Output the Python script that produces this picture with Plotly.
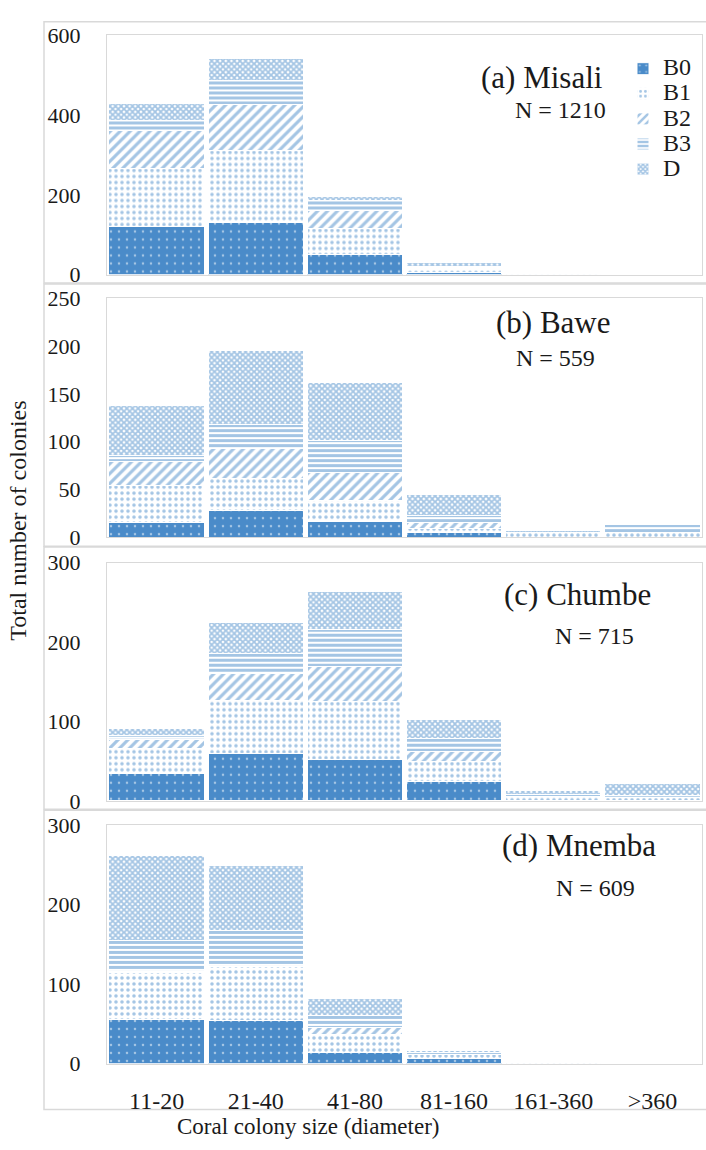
import plotly.graph_objects as go

categories = ["11-20", "21-40", "41-80", "81-160", "161-360", ">360"]
series_names = ["B0", "B1", "B2", "B3", "D"]

# (a) Misali
misali_B0 = [122, 132, 51, 6, 0, 0]
misali_B1 = [145, 180, 65, 10, 2, 0]
misali_B2 = [94, 116, 45, 3, 0, 0]
misali_B3 = [26, 58, 24, 2, 0, 0]
misali_D = [43, 56, 11, 9, 2, 0]

# (b) Bawe
bawe_B0 = [15, 28, 17, 5, 0, 0]
bawe_B1 = [39, 33, 21, 4, 5, 5]
bawe_B2 = [25, 32, 30, 7, 0, 0]
bawe_B3 = [7, 25, 33, 7, 0, 8]
bawe_D = [52, 77, 61, 22, 2, 0]

# (c) Chumbe
chumbe_B0 = [35, 60, 52, 25, 0, 0]
chumbe_B1 = [31, 67, 73, 25, 6, 5]
chumbe_B2 = [12, 33, 44, 12, 0, 0]
chumbe_B3 = [5, 26, 47, 17, 2, 2]
chumbe_D = [8, 39, 48, 24, 5, 15]

# (d) Mnemba
mnemba_B0 = [56, 54, 14, 6, 0, 0]
mnemba_B1 = [58, 68, 23, 5, 1, 0]
mnemba_B2 = [2, 0, 8, 1, 0, 0]
mnemba_B3 = [39, 45, 16, 2, 0, 0]
mnemba_D = [106, 82, 21, 2, 0, 0]

panel_titles = ["(a) Misali", "(b) Bawe", "(c) Chumbe", "(d) Mnemba"]
panel_n = ["N = 1210", "N = 559", "N = 715", "N = 609"]
y_max = [600, 250, 300, 300]
y_dtick = [200, 50, 100, 100]

panels = [
    [misali_B0, misali_B1, misali_B2, misali_B3, misali_D],
    [bawe_B0, bawe_B1, bawe_B2, bawe_B3, bawe_D],
    [chumbe_B0, chumbe_B1, chumbe_B2, chumbe_B3, chumbe_D],
    [mnemba_B0, mnemba_B1, mnemba_B2, mnemba_B3, mnemba_D],
]

W, H = 706, 1150
BLUE = "#4a8bc9"
FONT = "Liberation Serif, Times New Roman, serif"
TXT = "#1a1a1a"
BORDER = "#d9d9d9"

patterns = {
    "B0": dict(shape=".", bgcolor=BLUE, fgcolor="white", size=8, solidity=0.08),
    "B1": dict(shape=".", bgcolor="white", fgcolor=BLUE, size=6, solidity=0.28),
    "B2": dict(shape="/", bgcolor="white", fgcolor=BLUE, size=7, solidity=0.45),
    "B3": dict(shape="-", bgcolor="white", fgcolor=BLUE, size=5, solidity=0.6),
    "D": dict(shape="x", bgcolor="white", fgcolor=BLUE, size=4, solidity=0.7),
}


def px_y(p):
    return 1 - p / H


def px_x(p):
    return p / W


plot_px = [(24, 268.5), (292.5, 537), (563, 806.5), (831, 1075)]
outer_px = [(10, 277), (278, 546), (547, 815), (816, 1122)]
label_pos = [((542, 67), (560, 100)), ((553, 317), (555, 354)),
             ((577, 595), (594, 638)), ((579, 852), (595, 895))]

fig = go.Figure()
for i, data in enumerate(panels):
    ax = "" if i == 0 else str(i + 1)
    for name, vals in zip(series_names, data):
        fig.add_trace(go.Bar(
            x=categories, y=vals,
            name='<span style="font-size:24px">%s</span>' % name,
            xaxis="x" + ax, yaxis="y" + ax,
            marker=dict(color=BLUE if name == "B0" else "white",
                        pattern=patterns[name],
                        line=dict(color="white", width=1)),
            showlegend=(i == 0), legendgroup=name,
        ))

layout = dict(
    width=W, height=H, margin=dict(l=0, r=0, t=0, b=0),
    paper_bgcolor="white", plot_bgcolor="white",
    barmode="stack", bargap=0.04,
    font=dict(family=FONT, color=TXT, size=22),
    showlegend=True,
    legend=dict(x=px_x(623), y=px_y(40), xanchor="left", yanchor="top",
                font=dict(family=FONT, size=17, color=TXT),
                bgcolor="rgba(0,0,0,0)", tracegroupgap=0, itemwidth=30),
    shapes=[], annotations=[],
)

for i in range(4):
    ax = "" if i == 0 else str(i + 1)
    top, bot = plot_px[i]
    layout["xaxis" + ax] = dict(
        domain=[px_x(107), px_x(702)], anchor="y" + ax,
        range=[-0.5, 5.5], type="category",
        showticklabels=(i == 3), ticks="", showgrid=False,
        showline=True, mirror=True, linecolor=BORDER, linewidth=1,
        tickfont=dict(family=FONT, size=24, color=TXT),
        ticklabelstandoff=16, zeroline=False,
    )
    layout["yaxis" + ax] = dict(
        domain=[px_y(bot), px_y(top)], anchor="x" + ax,
        range=[0, y_max[i]], dtick=y_dtick[i], showgrid=False,
        showline=True, mirror=True, linecolor=BORDER, linewidth=1,
        tickfont=dict(family=FONT, size=22, color=TXT),
        ticks="", ticklabelstandoff=21, zeroline=False,
    )
    o_top, o_bot = outer_px[i]
    layout["shapes"].append(dict(
        type="rect", xref="paper", yref="paper",
        x0=px_x(44), x1=px_x(712), y0=px_y(o_bot), y1=px_y(o_top),
        line=dict(color=BORDER, width=1.5), layer="below",
    ))
    (tx, ty), (nx, ny) = label_pos[i]
    layout["annotations"].append(dict(
        text=panel_titles[i], xref="paper", yref="paper",
        x=px_x(tx), y=px_y(ty), showarrow=False,
        xanchor="center", yanchor="middle",
        font=dict(family=FONT, size=31, color=TXT),
    ))
    layout["annotations"].append(dict(
        text=panel_n[i], xref="paper", yref="paper",
        x=px_x(nx), y=px_y(ny), showarrow=False,
        xanchor="center", yanchor="middle",
        font=dict(family=FONT, size=24, color=TXT),
    ))

layout["annotations"].append(dict(
    text="Total number of colonies", xref="paper", yref="paper",
    x=px_x(18), y=px_y(520), showarrow=False, textangle=-90,
    xanchor="center", yanchor="middle",
    font=dict(family=FONT, size=24, color=TXT),
))
layout["annotations"].append(dict(
    text="Coral colony size (diameter)", xref="paper", yref="paper",
    x=px_x(308), y=px_y(1139), showarrow=False,
    xanchor="center", yanchor="middle",
    font=dict(family=FONT, size=23, color=TXT),
))

fig.update_layout(**layout)
fig.write_html("out.html")
